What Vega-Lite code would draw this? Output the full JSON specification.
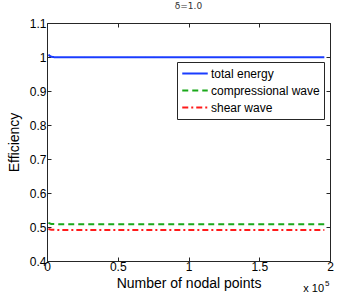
{
  "$schema": "https://vega.github.io/schema/vega-lite/v6.json",
  "width": 283,
  "height": 238,
  "autosize": {"type": "none"},
  "padding": {"left": 47, "top": 23, "right": 34, "bottom": 34},
  "background": "white",
  "config": {
    "font": "Liberation Sans",
    "view": {"stroke": "#262626", "strokeWidth": 1},
    "axis": {"domain": false, "grid": false, "tickColor": "#262626", "tickSize": -4, "labelColor": "black", "labelFontSize": 12, "labelFont": "Liberation Sans", "titleFont": "Liberation Sans", "titleColor": "black", "titleFontWeight": "normal"}
  },
  "title": {"text": "δ=1.0", "fontSize": 9, "fontWeight": "normal", "font": "DejaVu Sans", "color": "#333333", "offset": 6, "anchor": "middle"},
  "datasets": {
    "lines": [
      {"n": 1000, "e": 1.007, "s": "total energy"},
      {"n": 2000, "e": 1.003, "s": "total energy"},
      {"n": 3000, "e": 1.001, "s": "total energy"},
      {"n": 5000, "e": 0.9995, "s": "total energy"},
      {"n": 10000, "e": 0.9993, "s": "total energy"},
      {"n": 50000, "e": 0.999, "s": "total energy"},
      {"n": 100000, "e": 0.999, "s": "total energy"},
      {"n": 150000, "e": 0.999, "s": "total energy"},
      {"n": 196000, "e": 0.999, "s": "total energy"},
      {"n": 1000, "e": 0.512, "s": "compressional wave"},
      {"n": 3000, "e": 0.509, "s": "compressional wave"},
      {"n": 10000, "e": 0.508, "s": "compressional wave"},
      {"n": 100000, "e": 0.508, "s": "compressional wave"},
      {"n": 196000, "e": 0.508, "s": "compressional wave"},
      {"n": 1000, "e": 0.494, "s": "shear wave"},
      {"n": 3000, "e": 0.492, "s": "shear wave"},
      {"n": 10000, "e": 0.491, "s": "shear wave"},
      {"n": 100000, "e": 0.491, "s": "shear wave"},
      {"n": 196000, "e": 0.491, "s": "shear wave"}
    ],
    "note": [{"n": 200000, "e": 0.4}]
  },
  "layer": [
    {
      "data": {"name": "lines"},
      "mark": {"type": "line", "strokeWidth": 2},
      "encoding": {
        "x": {"field": "n", "type": "quantitative", "scale": {"domain": [0, 200000], "nice": false},
              "axis": {"values": [0, 50000, 100000, 150000, 200000], "labelExpr": "format(datum.value/100000, '')", "title": "Number of nodal points", "titleFontSize": 14, "titlePadding": 4, "labelPadding": 4, "labelFlush": false}},
        "y": {"field": "e", "type": "quantitative", "scale": {"domain": [0.4, 1.1], "nice": false, "zero": false},
              "axis": {"values": [0.4, 0.5, 0.6, 0.7, 0.8, 0.9, 1.0, 1.1], "labelExpr": "datum.value == 1 ? '1' : format(datum.value, '.1f')", "title": "Efficiency", "titleFontSize": 14, "titlePadding": 8, "labelPadding": 5}},
        "color": {"field": "s", "type": "nominal",
                  "scale": {"domain": ["total energy", "compressional wave", "shear wave"], "range": ["#1a3cff", "#1aa81a", "#ff1a1a"]},
                  "legend": {"title": null, "orient": "none", "legendX": 130, "legendY": 39, "symbolType": "stroke", "symbolSize": 650, "symbolStrokeWidth": 2, "clipHeight": 15, "labelFontSize": 12, "labelColor": "black", "rowPadding": 2, "strokeColor": "#262626", "fillColor": "white", "padding": 4, "labelOffset": 2}},
        "strokeDash": {"field": "s", "type": "nominal",
                  "scale": {"domain": ["total energy", "compressional wave", "shear wave"], "range": [[1, 0], [6, 4], [6, 3, 2, 3]]},
                  "legend": null}
      }
    },
    {
      "data": {"name": "note"},
      "mark": {"type": "text", "text": "x 10", "align": "right", "baseline": "alphabetic", "dx": -6, "dy": 31, "fontSize": 11, "color": "black"},
      "encoding": {
        "x": {"field": "n", "type": "quantitative", "axis": null},
        "y": {"field": "e", "type": "quantitative", "axis": null}
      }
    },
    {
      "data": {"name": "note"},
      "mark": {"type": "text", "text": "5", "align": "left", "baseline": "alphabetic", "dx": -5, "dy": 25, "fontSize": 8, "color": "black"},
      "encoding": {
        "x": {"field": "n", "type": "quantitative", "axis": null},
        "y": {"field": "e", "type": "quantitative", "axis": null}
      }
    },
    {
      "data": {"name": "note"},
      "mark": {"type": "point", "opacity": 0},
      "encoding": {
        "x": {"field": "n", "type": "quantitative", "axis": {"orient": "top", "values": [0, 50000, 100000, 150000, 200000], "labels": false, "title": null}},
        "y": {"field": "e", "type": "quantitative", "axis": {"orient": "right", "values": [0.4, 0.5, 0.6, 0.7, 0.8, 0.9, 1.0, 1.1], "labels": false, "title": null}}
      }
    }
  ],
  "resolve": {"axis": {"x": "independent", "y": "independent"}}
}
